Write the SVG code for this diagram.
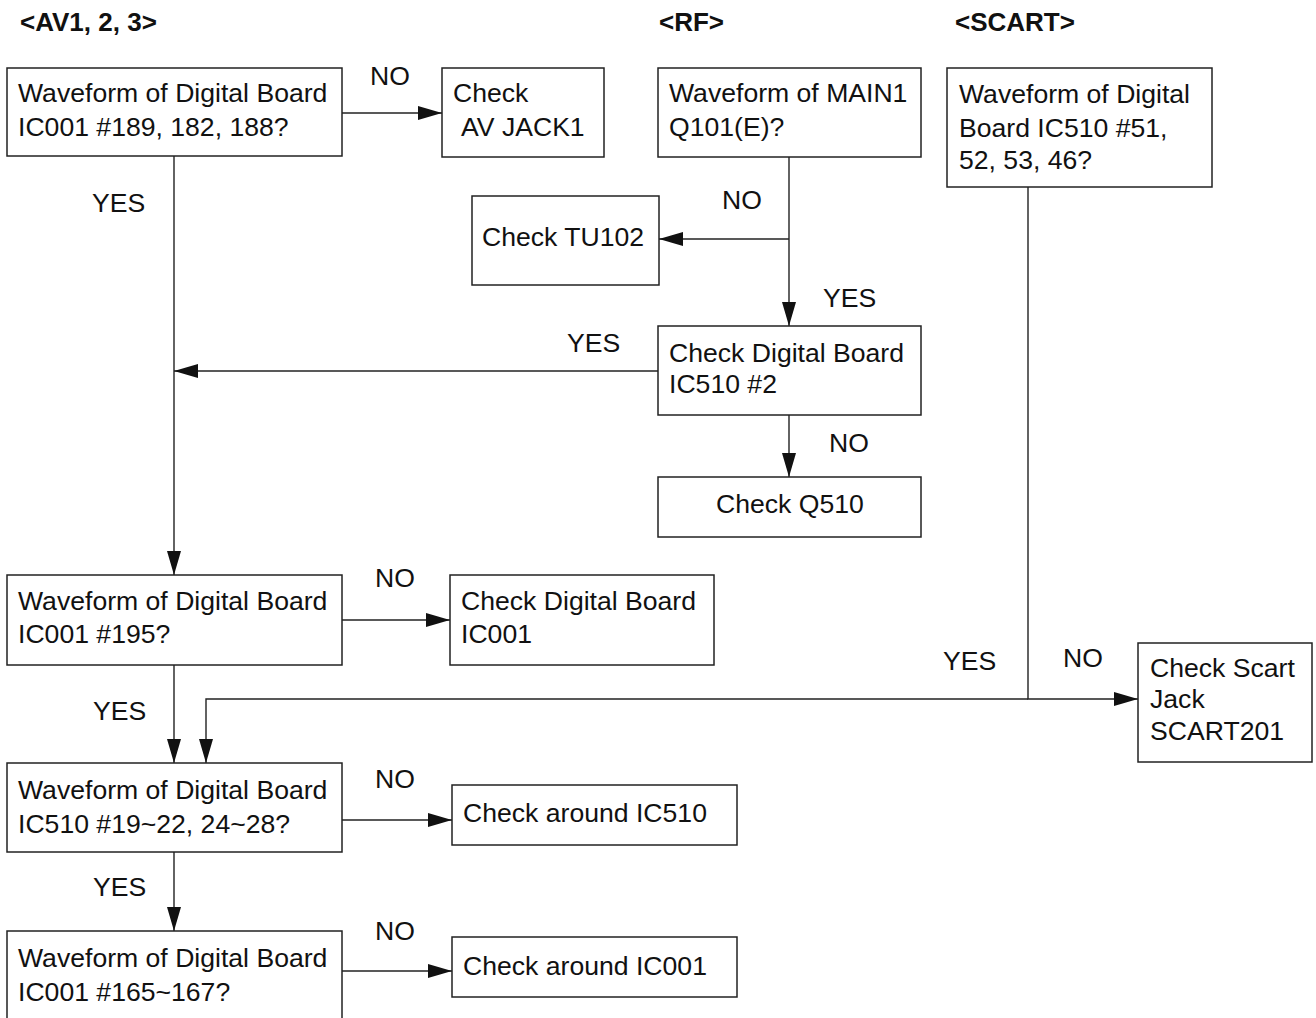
<svg xmlns="http://www.w3.org/2000/svg" width="1316" height="1018" viewBox="0 0 1316 1018">
<style>
  .box { fill: #fff; stroke: #222; stroke-width: 1.5; }
  .t { font-family: "Liberation Sans", Arial, sans-serif; font-size: 26.6px; fill: #111; }
  .h { font-family: "Liberation Sans", Arial, sans-serif; font-size: 26px; font-weight: bold; fill: #111; }
  .c { fill: none; stroke: #222; stroke-width: 1.4; }
</style>
<defs>
  <marker id="ah" markerUnits="userSpaceOnUse" markerWidth="24" markerHeight="14" refX="24" refY="7" orient="auto">
    <path d="M0,0 L24,7 L0,14 Z" fill="#111"/>
  </marker>
</defs>
<rect width="1316" height="1018" fill="#fff"/>

<g id="headers">
  <text class="h" x="20" y="31">&lt;AV1, 2, 3&gt;</text>
  <text class="h" x="659" y="31">&lt;RF&gt;</text>
  <text class="h" x="955" y="31">&lt;SCART&gt;</text>
</g>

<g id="connectors">
  <path class="c" d="M342,113 H442" marker-end="url(#ah)"/>
  <path class="c" d="M174,156 V575" marker-end="url(#ah)"/>
  <path class="c" d="M789,157 V326" marker-end="url(#ah)"/>
  <path class="c" d="M789,239 H659" marker-end="url(#ah)"/>
  <path class="c" d="M658,371 H174" marker-end="url(#ah)"/>
  <path class="c" d="M789,415 V477" marker-end="url(#ah)"/>
  <path class="c" d="M342,620 H450" marker-end="url(#ah)"/>
  <path class="c" d="M174,665 V763" marker-end="url(#ah)"/>
  <path class="c" d="M1028,187 V699 H1138" marker-end="url(#ah)"/>
  <path class="c" d="M1028,699 H206 V763" marker-end="url(#ah)"/>
  <path class="c" d="M342,820 H452" marker-end="url(#ah)"/>
  <path class="c" d="M174,852 V931" marker-end="url(#ah)"/>
  <path class="c" d="M342,971 H452" marker-end="url(#ah)"/>
</g>

<g id="labels">
  <text class="t" x="370" y="85">NO</text>
  <text class="t" x="92" y="212">YES</text>
  <text class="t" x="722" y="209">NO</text>
  <text class="t" x="823" y="307">YES</text>
  <text class="t" x="567" y="352">YES</text>
  <text class="t" x="829" y="452">NO</text>
  <text class="t" x="375" y="587">NO</text>
  <text class="t" x="93" y="720">YES</text>
  <text class="t" x="943" y="670">YES</text>
  <text class="t" x="1063" y="667">NO</text>
  <text class="t" x="375" y="788">NO</text>
  <text class="t" x="93" y="896">YES</text>
  <text class="t" x="375" y="940">NO</text>
</g>

<g id="n-av-ic001-189">
  <rect class="box" x="7" y="68" width="335" height="88"/>
  <text class="t" x="18" y="102">Waveform of Digital Board</text>
  <text class="t" x="18" y="136">IC001 #189, 182, 188?</text>
</g>
<g id="n-check-avjack1">
  <rect class="box" x="442" y="68" width="162" height="89"/>
  <text class="t" x="453" y="102">Check</text>
  <text class="t" x="461" y="136">AV JACK1</text>
</g>
<g id="n-main1-q101">
  <rect class="box" x="658" y="68" width="263" height="89"/>
  <text class="t" x="669" y="102">Waveform of MAIN1</text>
  <text class="t" x="669" y="136">Q101(E)?</text>
</g>
<g id="n-scart-ic510">
  <rect class="box" x="947" y="68" width="265" height="119"/>
  <text class="t" x="959" y="103">Waveform of Digital</text>
  <text class="t" x="959" y="137">Board IC510 #51,</text>
  <text class="t" x="959" y="169">52, 53, 46?</text>
</g>
<g id="n-check-tu102">
  <rect class="box" x="472" y="196" width="187" height="89"/>
  <text class="t" x="482" y="246">Check TU102</text>
</g>
<g id="n-check-ic510-2">
  <rect class="box" x="658" y="326" width="263" height="89"/>
  <text class="t" x="669" y="362">Check Digital Board</text>
  <text class="t" x="669" y="393">IC510 #2</text>
</g>
<g id="n-check-q510">
  <rect class="box" x="658" y="477" width="263" height="60"/>
  <text class="t" x="716" y="513">Check Q510</text>
</g>
<g id="n-av-ic001-195">
  <rect class="box" x="7" y="575" width="335" height="90"/>
  <text class="t" x="18" y="610">Waveform of Digital Board</text>
  <text class="t" x="18" y="643">IC001 #195?</text>
</g>
<g id="n-check-ic001">
  <rect class="box" x="450" y="575" width="264" height="90"/>
  <text class="t" x="461" y="610">Check Digital Board</text>
  <text class="t" x="461" y="643">IC001</text>
</g>
<g id="n-check-scart201">
  <rect class="box" x="1138" y="643" width="174" height="119"/>
  <text class="t" x="1150" y="677">Check Scart</text>
  <text class="t" x="1150" y="708">Jack</text>
  <text class="t" x="1150" y="740">SCART201</text>
</g>
<g id="n-av-ic510-19">
  <rect class="box" x="7" y="763" width="335" height="89"/>
  <text class="t" x="18" y="799">Waveform of Digital Board</text>
  <text class="t" x="18" y="833">IC510 #19~22, 24~28?</text>
</g>
<g id="n-check-around-ic510">
  <rect class="box" x="452" y="785" width="285" height="60"/>
  <text class="t" x="463" y="822">Check around IC510</text>
</g>
<g id="n-av-ic001-165">
  <rect class="box" x="7" y="931" width="335" height="100"/>
  <text class="t" x="18" y="967">Waveform of Digital Board</text>
  <text class="t" x="18" y="1001">IC001 #165~167?</text>
</g>
<g id="n-check-around-ic001">
  <rect class="box" x="452" y="937" width="285" height="60"/>
  <text class="t" x="463" y="975">Check around IC001</text>
</g>
</svg>
